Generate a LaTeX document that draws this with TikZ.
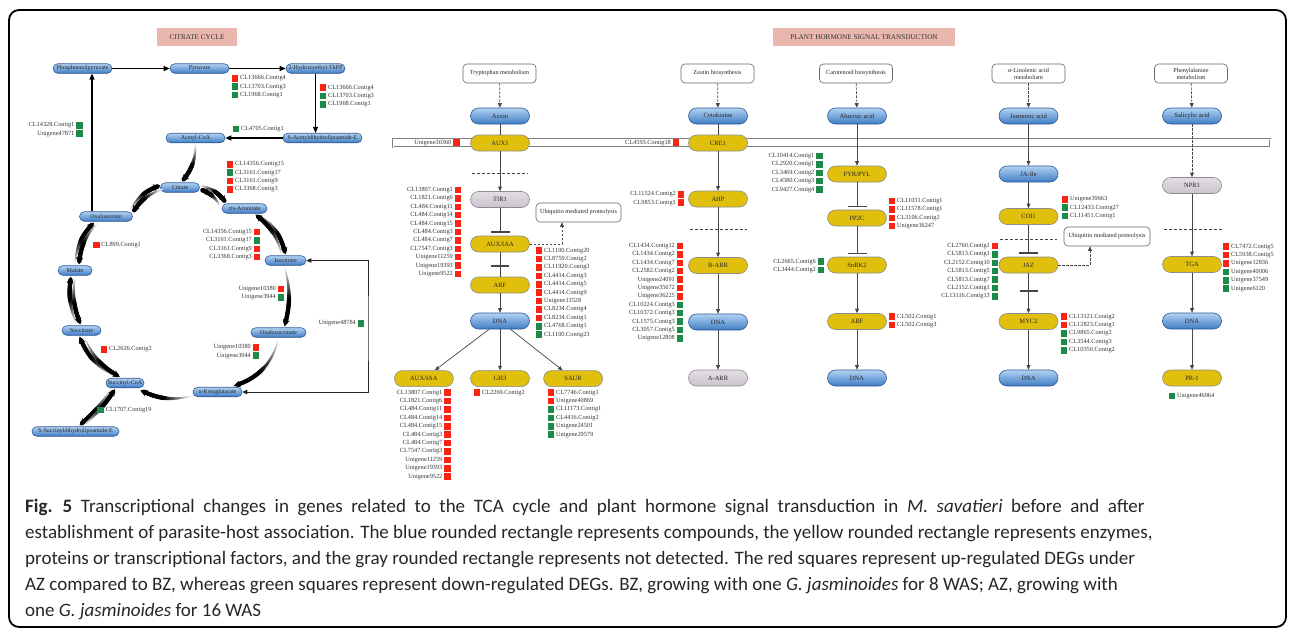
\documentclass[tikz,border=0pt]{standalone}
\usepackage{fontspec}
\setmainfont{Liberation Serif}
\newfontfamily\capfont{Carlito}
\usetikzlibrary{positioning,arrows.meta,decorations.markings}

\definecolor{cpdtop}{RGB}{178,210,242}
\definecolor{cpdbot}{RGB}{62,124,196}
\definecolor{cpdline}{RGB}{46,88,150}
\definecolor{enzfill}{RGB}{224,192,12}
\definecolor{ndfill}{RGB}{204,194,206}
\definecolor{titlebg}{RGB}{233,183,174}
\definecolor{up}{RGB}{250,36,20}
\definecolor{dn}{RGB}{30,138,74}
\definecolor{wire}{RGB}{70,70,70}

% gene lists: name, square x, first square y, {label/colour,...}
\newcommand\genesR[4]{%
  \foreach \gname/\gcol [count=\i] in {#4} {%
    \node[sq=\gcol] (#1s\i) at (#2,{#3+(\i-1)*8.4}) {};
    \node[gene, right=1.5pt of #1s\i] (#1g\i) {\gname};
  }}
\newcommand\genesL[4]{%
  \foreach \gname/\gcol [count=\i] in {#4} {%
    \node[sq=\gcol] (#1s\i) at (#2,{#3+(\i-1)*8.4}) {};
    \node[gene, left=1.5pt of #1s\i] (#1g\i) {\gname};
  }}

\begin{document}
\begin{tikzpicture}[
  x=1pt, y=-1pt,
  title/.style={rectangle, fill=titlebg, minimum height=18pt,
    font=\fontsize{7.2}{8}\selectfont, text=black!80},
  cpd/.style={rectangle, rounded corners=4.7pt, draw=cpdline, line width=.6pt,
    top color=cpdtop, bottom color=cpdbot, minimum height=9.5pt, inner sep=0,
    font=\fontsize{6}{7}\selectfont, text=black!85},
  hnode/.style={rectangle, rounded corners=8pt, minimum width=59pt,
    minimum height=16pt, inner sep=0, line width=.6pt,
    font=\fontsize{6.5}{7}\selectfont, text=black!85},
  compound/.style={hnode, draw=cpdline, top color=cpdtop, bottom color=cpdbot},
  enzyme/.style={hnode, draw=black!45, fill=enzfill},
  undet/.style={hnode, draw=black!45, top color=ndfill!55, bottom color=ndfill},
  pathway/.style={rectangle, rounded corners=4pt, draw=black!60, line width=.6pt,
    fill=white, minimum width=73pt, minimum height=19pt, inner sep=1pt,
    align=center, font=\fontsize{6.2}{6.8}\selectfont, text=black!85},
  sq/.style={rectangle, fill=#1, minimum size=6.5pt, inner sep=0},
  gene/.style={inner sep=0, font=\fontsize{6.3}{7}\selectfont, text=black!80},
  rxn/.style={draw=black, line width=1.2pt, -{Triangle[length=6pt,width=5pt]}},
  rxnboth/.style={draw=black!85, line width=.9pt,
    {Triangle[length=5pt,width=4.5pt]}-{Triangle[length=5pt,width=4.5pt]}},
  flux/.style={decoration={markings,
      mark=between positions 0 and 0.94 step 0.015 with {%
        \pgfmathtruncatemacro\lev{min(100,2.6*\pgfkeysvalueof{/pgf/decoration/mark info/sequence number})}%
        \pgfmathsetmacro\rad{0.5+0.017*\lev}%
        \fill[black!\lev] (0,0) circle (\rad pt);},
      mark=at position 1 with {\arrow{Stealth[length=7pt,width=7pt]}}},
    postaction={decorate}},
  link/.style={draw=wire, line width=.7pt},
  sig/.style={link, -{Triangle[length=4.5pt,width=3.8pt]}},
  indirect/.style={sig, dash pattern=on 2.5pt off 1.5pt},
  inhib/.style={link, -{Bar[width=19pt,line width=1.3pt]}, shorten >=3pt},
  barline/.style={draw=wire, line width=1.3pt},
  sepline/.style={draw=wire, line width=.7pt, dash pattern=on 3pt off 2pt},
  membrane/.style={draw=black!50, line width=.5pt, double distance=.5pt, fill=white},
  caption/.style={inner sep=0, align=left, text=black!85,
    font=\capfont\fontsize{19}{26}\selectfont}
]
\useasboundingbox (0,0) rectangle (1292,632);
\draw[line width=1.8pt, rounded corners=10pt] (9,10) rectangle (1286,627);

% ---------------- citrate cycle ----------------
\node[title, minimum width=80pt] (tcatitle) at (197,37) {CITRATE CYCLE};

\node[cpd, minimum width=59pt] (pep) at (82.5,68.5) {Phosphoenolpyruvate};
\node[cpd, minimum width=59pt] (pyr) at (199.5,68.5) {Pyruvate};
\node[cpd, minimum width=59pt] (hyd) at (315.5,68.5) {2-Hydroxyethyl-ThPP};
\node[cpd, minimum width=79pt] (sacet) at (322.5,138) {S-Acetyldihydrolipoamide-E};
\node[cpd, minimum width=59pt] (acoa) at (195.5,138) {Acetyl-CoA};
\node[cpd, minimum width=39pt] (cit) at (180,187.5) {Citrate};
\node[cpd, minimum width=45pt] (cis) at (244.5,208.5) {cis-Aconitate};
\node[cpd, minimum width=53pt] (oxa) at (106,216.5) {Oxaloacetate};
\node[cpd, minimum width=34pt] (mal) at (75,270.5) {Malate};
\node[cpd, minimum width=41pt] (iso) at (285.5,260.5) {Isocitrate};
\node[cpd, minimum width=55pt] (oxs) at (278.5,332.5) {Oxalosuccinate};
\node[cpd, minimum width=39pt] (suc) at (81.5,330.5) {Succinate};
\node[cpd, minimum width=38pt] (scoa) at (125,383) {Succinyl-CoA};
\node[cpd, minimum width=49pt] (akg) at (217.5,392) {α-Ketoglutarate};
\node[cpd, minimum width=87pt] (ssdl) at (75.5,431.5) {S-Succinyldihydrolipoamide-E};

\draw[rxn] (pep) -- (pyr);
\draw[rxn] (pyr) -- (hyd);
\draw[rxn] (hyd.south) -- (hyd.south |- sacet.north);
\draw[rxn] (sacet) -- (acoa);
\draw[rxn] ([xshift=-14pt]oxa.north) -- ([xshift=-14pt]oxa.north |- pep.south);
\coordinate (tcaright) at (368,330);
\draw[rxnboth] (iso) -| (tcaright) |- (akg);

% cycle steps
\path[flux] ([shift={(0,1)}]acoa.south) to[bend left=20] ([shift={(2,-1)}]cit.north);
\path[flux] ([shift={(-3,-1)}]oxa.north east) to[bend left=20] ([shift={(0,-2)}]cit.west);
\path[flux] ([shift={(2,2)}]cit.west) to[bend right=20] ([shift={(0,1)}]oxa.north east);
\path[flux] ([shift={(0,-2)}]cit.east) to[bend left=20] ([shift={(4,-1)}]cis.north west);
\path[flux] ([shift={(-2,2)}]cis.north west) to[bend right=20] ([shift={(1,2)}]cit.east);
\path[flux] ([shift={(-8,1)}]cis.south east) to[bend left=20] ([shift={(0,-1)}]iso.north);
\path[flux] ([shift={(-4,-1)}]iso.north) to[bend right=20] ([shift={(-12,1)}]cis.south east);
\path[flux] ([shift={(-1,1)}]iso.south) to[bend left=15] ([shift={(6,-1)}]oxs.north);
\path[flux] ([shift={(0,1)}]oxs.south) to[bend left=30] ([shift={(16,-1)}]akg.north);
\path[flux] ([shift={(-1,4)}]akg.west) to[bend left=20] ([shift={(-4,2)}]scoa.south east);
\path[flux] ([shift={(-9,-1)}]scoa.north) to[bend left=20] ([shift={(-2,1)}]suc.south);
\path[flux] ([shift={(3,1)}]suc.south) to[bend right=20] ([shift={(-5,-1)}]scoa.north);
\path[flux] ([shift={(-5,-1)}]suc.north) to[bend left=15] ([shift={(-4,1)}]mal.south);
\path[flux] ([shift={(0,1)}]mal.south) to[bend right=15] ([shift={(-1,-1)}]suc.north);
\path[flux] ([shift={(0,-1)}]mal.north) to[bend left=20] ([shift={(-12,1)}]oxa.south);
\path[flux] ([shift={(-8,1)}]oxa.south) to[bend right=20] ([shift={(4,-1)}]mal.north);
\path[flux] ([shift={(-14,1)}]scoa.south) to[bend left=8] ([shift={(4,-1)}]ssdl.north);
\path[flux] ([shift={(8,-1)}]ssdl.north) to[bend right=8] ([shift={(-10,1)}]scoa.south);

\genesR{ga}{235}{78.3}{CL13666.Contig4/up,CL13703.Contig3/dn,CL1968.Contig1/dn}
\genesR{gb}{323}{87.7}{CL13666.Contig4/up,CL13703.Contig3/dn,CL1968.Contig1/dn}
\genesR{gc}{236}{129}{CL4705.Contig1/dn}
\genesL{gd}{79.5}{125.3}{CL14328.Contig1/dn,Unigene47871/dn}
\genesR{ge}{230}{164.3}{CL14356.Contig15/up,CL3161.Contig17/dn,CL3161.Contig9/up,CL3368.Contig3/up}
\genesR{gf}{96.3}{245}{CL899.Contig1/up}
\genesL{gg}{257}{232}{CL14356.Contig15/up,CL3161.Contig17/dn,CL3161.Contig9/up,CL3368.Contig3/up}
\genesL{gh}{281}{289}{Unigene10380/up,Unigene3944/dn}
\genesL{gi}{361}{323.3}{Unigene48784/dn}
\genesR{gj}{104}{349.3}{CL2626.Contig2/up}
\genesL{gk}{256}{347.3}{Unigene10380/up,Unigene3944/dn}
\genesR{gl}{100.7}{410}{CL1707.Contig19/dn}

% ---------------- plant hormone signal transduction ----------------
\node[title, minimum width=182pt] (phtitle) at (864,37) {PLANT HORMONE SIGNAL TRANSDUCTION};
\draw[membrane] (393,139) rectangle (1270,147);

% auxin
\node[pathway] (trp) at (499.5,73.5) {Tryptophan metabolism};
\node[compound] (auxin) at (500,116) {Auxin};
\node[enzyme] (aux1) at (500,143) {AUX1};
\node[undet] (tir1) at (500,199.5) {TIR1};
\node[enzyme] (iaa) at (500,244) {AUX/IAA};
\node[enzyme] (arf) at (500,285) {ARF};
\node[compound] (dnaA) at (500,321) {DNA};
\node[enzyme, below=41pt of dnaA] (gh3) {GH3};
\node[enzyme, left=16.5pt of gh3] (iaaB) {AUX/IAA};
\node[enzyme, right=13.5pt of gh3] (saur) {SAUR};
\node[pathway, minimum width=85pt] (ubq1) at (578.5,212.5) {Ubiquitin mediated proteolysis};

\draw[indirect] (trp) -- (auxin);
\draw[link] (auxin) -- (aux1);
\draw[sig] (aux1) -- (tir1);
\draw[sepline] (472,173) -- (528,173);
\draw[inhib] (tir1) -- (iaa);
\draw[link] (iaa) -- coordinate[pos=.56] (iaabar) (arf);
\draw[barline] ([xshift=-9pt]iaabar) -- ([xshift=9pt]iaabar);
\draw[indirect] (iaa.east) -| ([xshift=-16.5pt]ubq1.south);
\draw[sig] (arf) -- (dnaA);
\draw[sig] (dnaA) -- (iaaB);
\draw[sig] (dnaA) -- (gh3);
\draw[sig] (dnaA) -- (saur);

\genesL{aux1g}{456.5}{142.7}{Unigene30360/up}
\genesL{tirg}{458}{190}{CL13807.Contig1/up,CL1821.Contig6/up,CL484.Contig11/up,CL484.Contig14/up,CL484.Contig15/up,CL484.Contig3/up,CL484.Contig7/up,CL7547.Contig3/up,Unigene11259/up,Unigene19393/up,Unigene9522/up}
\genesR{arfg}{539}{250.7}{CL1100.Contig20/up,CL8759.Contig2/up,CL11920.Contig3/up,CL4414.Contig3/up,CL4414.Contig5/up,CL4414.Contig9/up,Unigene13528/up,CL8234.Contig4/up,CL8234.Contig1/up,CL4768.Contig1/dn,CL1100.Contig23/dn}
\genesL{iaag}{447.5}{392.7}{CL13807.Contig1/up,CL1821.Contig6/up,CL484.Contig11/up,CL484.Contig14/up,CL484.Contig15/up,CL484.Contig3/up,CL484.Contig7/up,CL7547.Contig3/up,Unigene11259/up,Unigene19393/up,Unigene9522/up}
\genesR{gh3g}{477}{392.7}{CL2269.Contig2/up}
\genesR{saurg}{551}{392.7}{CL7746.Contig1/up,Unigene40869/up,CL11173.Contig1/dn,CL4416.Contig2/dn,Unigene24501/dn,Unigene29579/dn}

% cytokinine
\node[pathway] (zea) at (717.5,73.5) {Zeatin biosynthesis};
\node[compound] (cytok) at (718,116) {Cytokinine};
\node[enzyme] (cre1) at (718,143) {CRE1};
\node[enzyme] (ahp) at (718,199) {AHP};
\node[enzyme] (barr) at (718,265.5) {B-ARR};
\node[compound] (dnaB) at (718,322) {DNA};
\node[undet] (aarr) at (718,378) {A-ARR};

\draw[indirect] (zea) -- (cytok);
\draw[link] (cytok) -- (cre1);
\draw[sig] (cre1) -- (ahp);
\draw[sepline] (690,229) -- (747,229);
\draw[sig] (ahp) -- (barr);
\draw[sig] (barr) -- (dnaB);
\draw[sig] (dnaB) -- (aarr);

\genesL{cre1g}{676}{142.7}{CL4593.Contig18/up}
\genesL{ahpg}{681}{194.3}{CL11524.Contig2/up,CL9853.Contig1/up}
\genesL{barrg}{680}{246}{CL1434.Contig12/up,CL1434.Contig2/up,CL1434.Contig7/up,CL2582.Contig2/up,Unigene24091/up,Unigene35672/up,Unigene36225/up,CL10224.Contig3/dn,CL10372.Contig3/dn,CL1575.Contig3/dn,CL3057.Contig5/dn,Unigene12808/dn}

% abscisic acid
\node[pathway] (car) at (856,73.5) {Carotenoid biosynthesis};
\node[compound] (aba) at (857,116) {Abscisic acid};
\node[enzyme] (pyl) at (857,174) {PYR/PYL};
\node[enzyme] (pp2c) at (857,218) {PP2C};
\node[enzyme] (snrk2) at (857,265) {SnRK2};
\node[enzyme] (abf) at (857,321.5) {ABF};
\node[compound] (dnaC) at (857,378) {DNA};

\draw[indirect] (car) -- (aba);
\draw[sig] (aba) -- (pyl);
\draw[inhib, shorten >=2.7pt] (pyl) -- (pp2c);
\draw[inhib, shorten >=2.7pt] (pp2c) -- (snrk2);
\draw[sig] (snrk2) -- (abf);
\draw[sig] (abf) -- (dnaC);

\genesL{pylg}{819.5}{156}{CL10414.Contig1/dn,CL2920.Contig1/dn,CL3469.Contig2/dn,CL4580.Contig3/dn,CL9427.Contig4/dn}
\genesR{pp2cg}{892}{201}{CL11031.Contig1/up,CL11578.Contig1/up,CL3106.Contig2/up,Unigene36247/up}
\genesL{snrkg}{821}{261.7}{CL2665.Contig6/dn,CL3444.Contig2/dn}
\genesR{abfg}{892}{316.7}{CL502.Contig1/up,CL502.Contig3/up}

% jasmonic acid
\node[pathway] (lin) at (1028.5,73.5) {α-Linolenic acid\\metabolism};
\node[compound] (ja) at (1028.5,116) {Jasmonic acid};
\node[compound] (jaile) at (1028.5,174) {JA-Ile};
\node[enzyme] (coi1) at (1028.5,216.5) {COI1};
\node[enzyme] (jaz) at (1028.5,265) {JAZ};
\node[enzyme] (myc2) at (1028.5,321.5) {MYC2};
\node[compound] (dnaD) at (1028.5,378) {DNA};
\node[pathway, minimum width=86pt] (ubq2) at (1107,236.5) {Ubiquitin mediated proteolysis};

\draw[indirect] (lin) -- (ja);
\draw[sig] (ja) -- (jaile);
\draw[sig] (jaile) -- (coi1);
\draw[sepline] (1000,239.3) -- (1057,239.3);
\draw[inhib] (coi1) -- (jaz);
\draw[indirect] (jaz.east) -| ([xshift=-17pt]ubq2.south);
\draw[sig] (jaz) -- coordinate[pos=.44] (jazbar) (myc2);
\draw[barline] ([xshift=-9pt]jazbar) -- ([xshift=9pt]jazbar);
\draw[sig] (myc2) -- (dnaD);

\genesR{coig}{1065}{199.3}{Unigene39663/up,CL12433.Contig27/dn,CL11451.Contig1/dn}
\genesL{jazg}{995}{246}{CL2760.Contig1/up,CL5813.Contig1/dn,CL2152.Contig10/dn,CL5813.Contig5/dn,CL5813.Contig7/dn,CL2152.Contig1/dn,CL13116.Contig13/dn}
\genesR{mycg}{1064}{316.7}{CL13121.Contig2/up,CL12823.Contig1/up,CL9865.Contig2/dn,CL3544.Contig3/dn,CL10350.Contig2/dn}

% salicylic acid
\node[pathway] (phe) at (1191,73.5) {Phenylalanine\\metabolism};
\node[compound] (sa) at (1192,116) {Salicylic acid};
\node[undet] (npr1) at (1192,185.5) {NPR1};
\node[enzyme] (tga) at (1192,264.5) {TGA};
\node[compound] (dnaE) at (1192,321) {DNA};
\node[enzyme] (pr1) at (1192,378) {PR-1};

\draw[indirect] (phe) -- (sa);
\draw[indirect] (sa) -- (npr1);
\draw[sig] (npr1) -- (tga);
\draw[sepline] (1164,229.3) -- (1222,229.3);
\draw[sig] (tga) -- (dnaE);
\draw[sig] (dnaE) -- (pr1);

\genesR{tgag}{1226}{246.7}{CL7472.Contig5/up,CL5938.Contig5/up,Unigene12836/up,Unigene40006/dn,Unigene37549/dn,Unigene6120/dn}
\genesR{prg}{1172}{396}{Unigene46964/dn}

% ---------------- caption ----------------
\node[caption, anchor=north west] (cap) at (25,499) {%
{\spaceskip=8.6pt\relax\textbf{Fig. 5} Transcriptional changes in genes related to the TCA cycle and plant hormone signal transduction in \textit{M. savatieri} before and after}\\
establishment of parasite-host association. The blue rounded rectangle represents compounds, the yellow rounded rectangle represents enzymes,\\
proteins or transcriptional factors, and the gray rounded rectangle represents not detected. The red squares represent up-regulated DEGs under\\
AZ compared to BZ, whereas green squares represent down-regulated DEGs. BZ, growing with one \textit{G. jasminoides} for 8 WAS; AZ, growing with\\
one \textit{G. jasminoides} for 16 WAS};
\end{tikzpicture}
\end{document}
